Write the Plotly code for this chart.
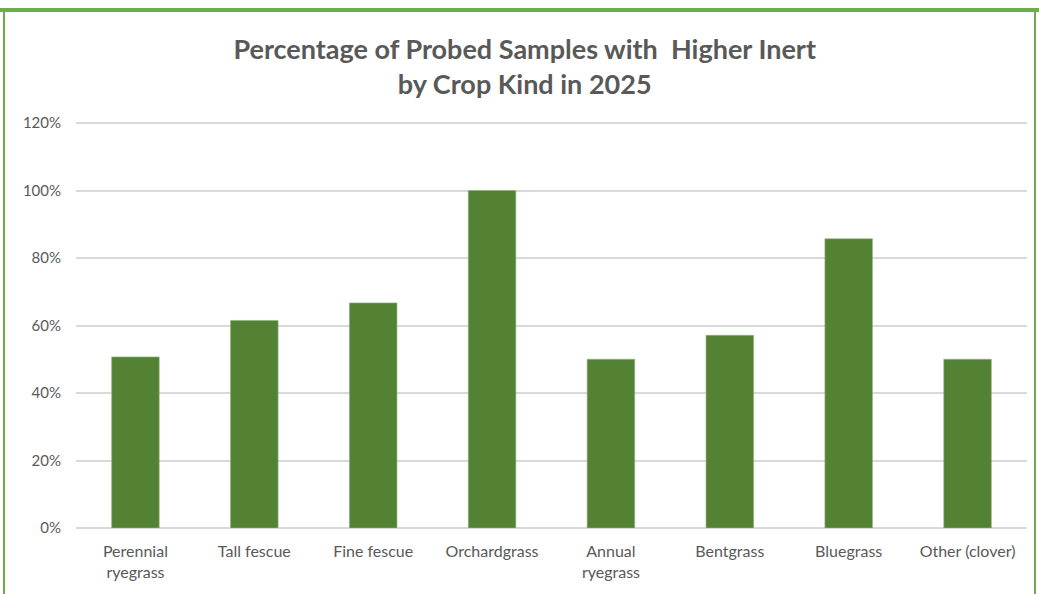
import plotly.graph_objects as go

categories = ["Perennial<br>ryegrass", "Tall fescue", "Fine fescue", "Orchardgrass",
              "Annual<br>ryegrass", "Bentgrass", "Bluegrass", "Other (clover)"]
values = [0.507, 0.615, 0.667, 1.0, 0.50, 0.571, 0.857, 0.50]
y_ticks = [0, 0.2, 0.4, 0.6, 0.8, 1.0, 1.2]

W, H = 1039, 594
L, R, T, B = 76, 12, 122, 66
pw, ph = W - L - R, H - T - B

def px(x):
    return (x - L) / pw

def py(y):
    return (H - B - y) / ph

fig = go.Figure(go.Bar(
    x=categories, y=values,
    marker=dict(color="#548235", line=dict(color="#8fb37a", width=0.6)),
    hoverinfo="x+y",
))

border = "#70AD47"
shapes = [
    dict(type="line", xref="paper", yref="paper", x0=px(0), x1=px(W), y0=py(10), y1=py(10),
         line=dict(color=border, width=4)),
    dict(type="line", xref="paper", yref="paper", x0=px(4), x1=px(4), y0=py(10), y1=py(H + 5),
         line=dict(color=border, width=2)),
    dict(type="line", xref="paper", yref="paper", x0=px(1035), x1=px(1035), y0=py(10), y1=py(H + 5),
         line=dict(color=border, width=2)),
]

fig.update_layout(
    width=W, height=H,
    margin=dict(l=L, r=R, t=T, b=B),
    paper_bgcolor="white", plot_bgcolor="white",
    title=dict(text="<b>Percentage of Probed Samples with  Higher Inert<br>by Crop Kind in 2025</b>",
               x=0.505, xref="container", y=1 - 59 / H, yanchor="middle",
               font=dict(family="Lato, Open Sans, sans-serif", size=27, color="#595959")),
    bargap=0.6,
    showlegend=False,
    font=dict(family="Lato, Open Sans, sans-serif", size=15, color="#595959"),
    xaxis=dict(showgrid=False, showline=False, ticks="", ticklabelstandoff=12,
               tickfont=dict(size=16, color="#595959")),
    yaxis=dict(range=[0, 1.203], tickvals=y_ticks, tickformat=".0%",
               showgrid=True, gridcolor="#D9D9D9", gridwidth=1.5,
               zeroline=True, zerolinecolor="#D9D9D9", zerolinewidth=1.5,
               showline=False, ticks="", ticklen=0, ticklabelstandoff=14,
               tickfont=dict(size=15, color="#595959")),
    shapes=shapes,
)

fig.write_html("out.html", config={"displayModeBar": False},
               post_script="document.body.style.margin='0';")
